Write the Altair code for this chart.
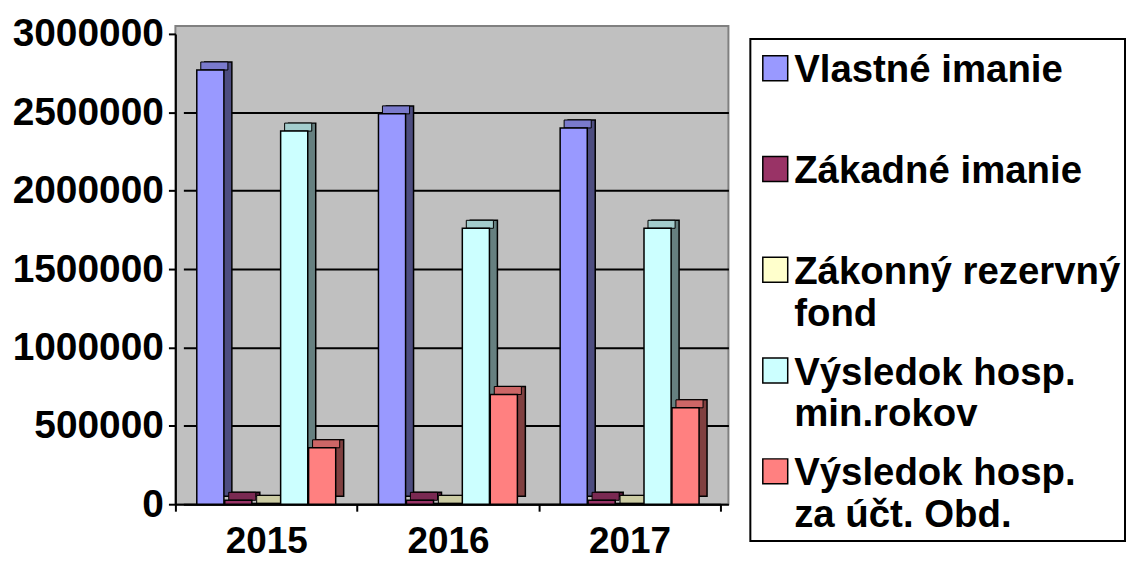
import altair as alt
import pandas as pd

years = ["2015", "2016", "2017"]
series = [
    "Vlastné imanie",
    "Zákadné imanie",
    "Zákonný rezervný fond",
    "Výsledok hosp. min.rokov",
    "Výsledok hosp. za účt. Obd.",
]
legend_line1 = ["Vlastné imanie", "Zákadné imanie", "Zákonný rezervný", "Výsledok hosp.", "Výsledok hosp."]
legend_line2 = ["", "", "fond", "min.rokov", "za účt. Obd."]

vlastne_imanie = [2770000, 2490000, 2400000]
zakladne_imanie = [25000, 25000, 25000]
zakonny_fond = [5000, 5000, 5000]
vysledok_min_rokov = [2380000, 1760000, 1760000]
vysledok_za_obd = [360000, 700000, 615000]

y_ticks = [0, 500000, 1000000, 1500000, 2000000, 2500000, 3000000]

front_colors = ["#9999FF", "#993366", "#FFFFCC", "#CCFFFF", "#FF8080"]
top_colors = ["#7A7ACC", "#7A2952", "#CCCCA3", "#A3CCCC", "#CC6666"]
side_colors = ["#4D4D80", "#4D1A33", "#80806A", "#668080", "#804040"]

all_values = [vlastne_imanie, zakladne_imanie, zakonny_fond, vysledok_min_rokov, vysledok_za_obd]
rows = []
for s, vals in zip(series, all_values):
    for yr, v in zip(years, vals):
        rows.append({"year": yr, "series": s, "value": v})
df = pd.DataFrame(rows)

# front plane size, depth of the 3-D look
W, H, D = 547, 472, 8
VW, VH = W + D, H + D  # view (back wall) size

y_enc = alt.Y(
    "value:Q",
    title=None,
    scale=alt.Scale(domain=[0, 3000000], nice=False, range=[VH, D]),
    axis=alt.Axis(
        values=y_ticks, format="d", labelFontSize=39, labelFontWeight="bold",
        labelColor="black", labelPadding=5, tickSize=7, tickColor="black", tickWidth=2,
        domainColor="black", domainWidth=2, grid=True, gridWidth=2,
        gridColor={"condition": {"test": "datum.value >= 3000000", "value": "transparent"},
                   "value": "black"},
    ),
)
xo = alt.XOffset("series:N", sort=series, scale=alt.Scale(paddingInner=0.03, paddingOuter=0.765))


def x_shift(shift):
    return alt.X("year:N", sort=years, title=None, axis=None,
                 scale=alt.Scale(paddingInner=0, paddingOuter=0, range=[shift, W + shift]))


side = alt.Chart(df).mark_bar(yOffset=-D, y2Offset=-D, stroke="black", strokeWidth=1.5).encode(
    x=x_shift(D), xOffset=xo, y=y_enc,
    color=alt.Color("series:N", scale=alt.Scale(domain=series, range=side_colors), legend=None),
)
top = alt.Chart(df).mark_bar(yOffset=-D, y2Offset=0, stroke="black", strokeWidth=1).encode(
    x=x_shift(D / 2), xOffset=xo, y=y_enc, y2="value:Q",
    color=alt.Color("series:N", scale=alt.Scale(domain=series, range=top_colors), legend=None),
)
front = alt.Chart(df).mark_bar(stroke="black", strokeWidth=1.5).encode(
    x=alt.X("year:N", sort=years, title=None,
            scale=alt.Scale(paddingInner=0, paddingOuter=0, range=[0, W]),
            axis=alt.Axis(labelAngle=0, labelFontSize=37, labelFontWeight="bold", labelColor="black",
                          labelPadding=12, tickSize=7, tickColor="black", tickWidth=2,
                          domainColor="black", domainWidth=2, tickBand="extent", grid=False)),
    xOffset=xo, y=y_enc,
    color=alt.Color("series:N", scale=alt.Scale(domain=series, range=front_colors), legend=None),
)

main = alt.layer(side, top, front).resolve_scale(
    x="independent", xOffset="independent", color="independent"
).properties(
    width=VW, height=VH,
    view=alt.ViewBackground(fill="#C0C0C0", stroke="#808080", strokeWidth=2),
)

leg_df = pd.DataFrame({"series": series, "line1": legend_line1, "line2": legend_line2})
ly = alt.Y("series:N", sort=series, axis=None,
           scale=alt.Scale(type="point", padding=0, range=[29.5, 434]))
lcolor = alt.Color("series:N", scale=alt.Scale(domain=series, range=front_colors), legend=None)
sym = alt.Chart(leg_df).mark_square(size=625, opacity=1, stroke="black", strokeWidth=1.5).encode(
    x=alt.value(25), y=ly, color=lcolor)
t1 = alt.Chart(leg_df).mark_text(align="left", baseline="middle", fontSize=38.5, fontWeight="bold",
                                 color="black", dy=2).encode(x=alt.value(44), y=ly, text="line1:N")
t2 = alt.Chart(leg_df).mark_text(align="left", baseline="middle", fontSize=38.5, fontWeight="bold",
                                 color="black", dy=44).encode(x=alt.value(44), y=ly, text="line2:N")
legend = alt.layer(sym, t1, t2).properties(
    width=376, height=504,
    view=alt.ViewBackground(fill="white", stroke="black", strokeWidth=2),
)
spacer = alt.Chart(leg_df).mark_point(opacity=0).encode(
    x=alt.value(0), y=alt.value(0)
).properties(width=376, height=1,
             view=alt.ViewBackground(fill="transparent", stroke="transparent"))

legend_col = alt.vconcat(spacer, legend, spacing=12, bounds="flush")

chart = alt.hconcat(main, legend_col, spacing=22, bounds="flush").properties(
    padding={"left": 3, "top": 5, "right": 0, "bottom": 0},
    background="white",
).configure(font="Liberation Sans")

chart.save("out.html", embed_options={"renderer": "svg", "actions": False})
